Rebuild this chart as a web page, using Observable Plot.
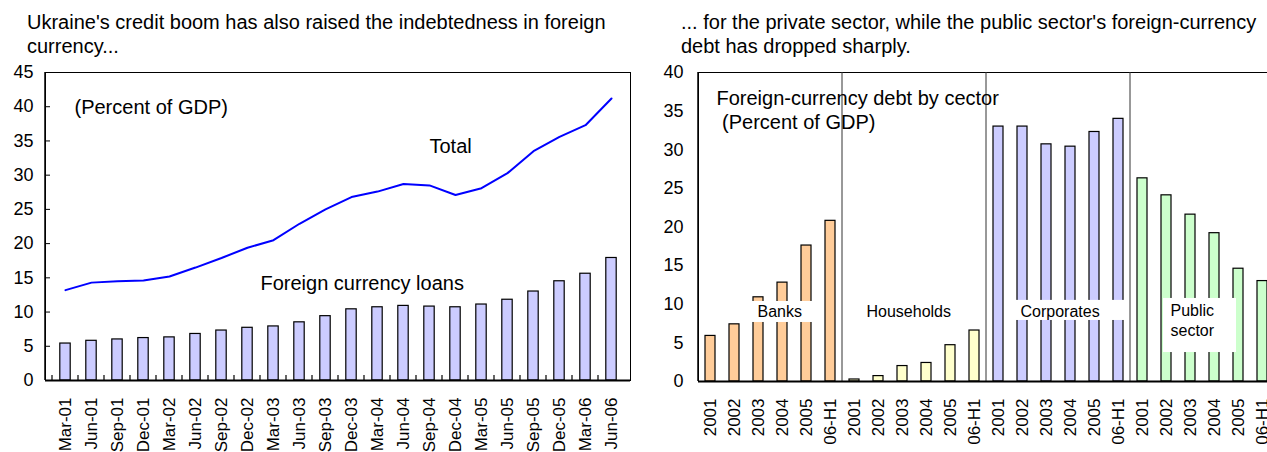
<!DOCTYPE html>
<html><head><meta charset="utf-8">
<script src="https://cdn.jsdelivr.net/npm/d3@7"></script>
<script src="https://cdn.jsdelivr.net/npm/@observablehq/plot@0.6"></script>
<style>
html,body{margin:0;padding:0;background:#fff;overflow:hidden;width:1267px;height:452px;}
body{position:relative;font-family:"Liberation Sans",Arial,sans-serif;}
.title{position:absolute;font-size:20px;line-height:24px;color:#000;white-space:nowrap;}
#left{position:absolute;left:0;top:60px;width:640px;}
#right{position:absolute;left:640px;top:60px;width:640px;}
</style></head><body>
<div class="title" style="left:27px;top:10px">Ukraine's credit boom has also raised the indebtedness in foreign<br>currency...</div>
<div class="title" style="left:681px;top:10px">... for the private sector, while the public sector's foreign-currency<br>debt has dropped sharply.</div>
<div id="left"></div>
<div id="right"></div>
<script>
// ---- Data: left panel ----
const quarters = ["Mar-01","Jun-01","Sep-01","Dec-01","Mar-02","Jun-02","Sep-02","Dec-02","Mar-03","Jun-03","Sep-03","Dec-03","Mar-04","Jun-04","Sep-04","Dec-04","Mar-05","Jun-05","Sep-05","Dec-05","Mar-06","Jun-06"];
const fxLoans = [5.4,5.8,6.0,6.2,6.3,6.8,7.3,7.7,7.9,8.5,9.4,10.4,10.7,10.9,10.8,10.7,11.1,11.8,13.0,14.5,15.6,17.9];
const totalDebt = [13.2,14.3,14.5,14.6,15.2,16.5,17.9,19.4,20.5,22.9,25.0,26.8,27.6,28.7,28.5,27.1,28.1,30.3,33.5,35.6,37.3,41.2];
const leftTicks = [0,5,10,15,20,25,30,35,40,45];

// ---- Data: right panel ----
const sectors = ["Banks","Households","Corporates","Public sector"];
const periods = ["2001","2002","2003","2004","2005","06-H1"];
const banks = [5.9,7.4,10.9,12.8,17.6,20.8];
const households = [0.26,0.7,2.0,2.4,4.7,6.6];
const corporates = [33.0,33.0,30.7,30.4,32.3,34.0];
const publicSector = [26.3,24.1,21.6,19.2,14.6,13.0];
const rightTicks = [0,5,10,15,20,25,30,35,40];
const sectorColors = ["#FFCC99","#FFFFCC","#CCCCFF","#CCFFCC"];

const FONT = '"Liberation Sans", Arial, sans-serif';

const leftData = quarters.map((q, i) => ({q, loans: fxLoans[i], total: totalDebt[i]}));
const sectorValues = [banks, households, corporates, publicSector];
const rightData = sectors.flatMap((s, si) => periods.map((p, pi) => ({key: s + "|" + p, sector: s, period: p, value: sectorValues[si][pi]})));
const rightKeys = rightData.map(d => d.key);

const svgStyle = {fontFamily: FONT, fontSize: "18px", color: "#000", background: "transparent", maxWidth: "none"};

// ---- Left chart ----
const left = Plot.plot({
  width: 640, height: 392,
  marginLeft: 45, marginRight: 10, marginTop: 12, marginBottom: 72,
  style: svgStyle,
  x: {type: "band", domain: quarters, padding: 0, label: null},
  y: {domain: [0, 45], label: null},
  marks: [
    Plot.frame({stroke: "#000", strokeWidth: 1}),
    Plot.barY(leftData, {x: "q", y: "loans", fill: "#CCCCFF", stroke: "#000", strokeWidth: 1.2, insetLeft: 7.8, insetRight: 7.8}),
    Plot.line(leftData, {x: "q", y: "total", stroke: "#0000FF", strokeWidth: 2}),
    Plot.axisY({ticks: leftTicks, tickSize: -5, tickPadding: 17, fontSize: 18, label: null}),
    Plot.axisX({tickSize: 0, tickRotate: -90, tickPadding: 17, fontSize: 17, label: null}),
    (index, scales, values, dims) => {
      const {x, y} = scales;
      const g = d3.create("svg:g").attr("stroke", "#000").attr("stroke-width", 1.2);
      quarters.forEach(q => {
        const bx = x(q);
        g.append("line").attr("x1", bx).attr("x2", bx).attr("y1", y(0)).attr("y2", y(0) - 5);
      });
      g.append("line").attr("x1", dims.marginLeft).attr("x2", dims.marginLeft)
        .attr("y1", dims.marginTop).attr("y2", y(0)).attr("stroke-width", 1.5);
      return g.node();
    },
    Plot.ruleY([0], {stroke: "#000", strokeWidth: 2}),
    Plot.text(["(Percent of GDP)"], {x: () => "Mar-01", y: () => 39.0, text: d => d, textAnchor: "start", lineAnchor: "bottom", dx: 9, fontSize: 20, fill: "#000"}),
    Plot.text(["Total"], {x: () => "Sep-04", y: () => 33.2, text: d => d, textAnchor: "start", lineAnchor: "bottom", dx: 0, fontSize: 20, fill: "#000"}),
    Plot.text(["Foreign currency loans"], {x: () => "Mar-03", y: () => 13.2, text: d => d, textAnchor: "start", lineAnchor: "bottom", dx: -13, fontSize: 20, fill: "#000"})
  ]
});
document.getElementById("left").append(left);

// ---- Right chart ----
// white label boxes, in band / value terms (dl, dr: offsets from band starts)
const boxes = [
  {from: "Banks|2003", to: "Banks|2005", dl: 4, dr: 18, top: 10.36, bottom: 7.64},
  {from: "Households|2001", to: "Households|2005", dl: 11, dr: 13, top: 10.36, bottom: 7.64},
  {from: "Corporates|2002", to: "Corporates|06-H1", dl: 5, dr: 22, top: 10.5, bottom: 7.9},
  {from: "Public sector|2002", to: "Public sector|2005", dl: 9, dr: 10, top: 10.75, bottom: 3.75}
];
const right = Plot.plot({
  width: 640, height: 392,
  marginLeft: 58, marginRight: 6, marginTop: 12, marginBottom: 71,
  style: svgStyle,
  x: {type: "band", domain: rightKeys, padding: 0, label: null},
  y: {domain: [0, 40], label: null},
  color: {domain: sectors, range: sectorColors},
  marks: [
    Plot.frame({stroke: "#000", strokeWidth: 1}),
    Plot.barY(rightData, {x: "key", y: "value", fill: "sector", stroke: "#000", strokeWidth: 1.2, insetLeft: 7, insetRight: 7}),
    (index, scales, values, dims) => {
      const {x, y} = scales;
      const g = d3.create("svg:g");
      sectors.slice(1).forEach(s => {
        const bx = x(s + "|" + periods[0]);
        g.append("line").attr("x1", bx).attr("x2", bx).attr("y1", y(40)).attr("y2", y(0))
          .attr("stroke", "#333").attr("stroke-width", 1);
      });
      boxes.forEach(b => {
        const x1 = x(b.from) + b.dl, x2 = x(b.to) + b.dr;
        g.append("rect").attr("x", x1).attr("y", y(b.top)).attr("width", x2 - x1)
          .attr("height", y(b.bottom) - y(b.top)).attr("fill", "#fff");
      });
      g.append("line").attr("x1", dims.marginLeft).attr("x2", dims.marginLeft)
        .attr("y1", dims.marginTop).attr("y2", y(0)).attr("stroke", "#000").attr("stroke-width", 1.5);
      return g.node();
    },
    Plot.axisY({ticks: rightTicks, tickSize: 0, tickPadding: 15, fontSize: 18, label: null}),
    Plot.axisX({tickSize: 0, tickRotate: -90, tickPadding: 17, fontSize: 17, label: null, tickFormat: d => d.split("|")[1]}),
    Plot.ruleY([0], {stroke: "#000", strokeWidth: 2}),
    Plot.text(["Foreign-currency debt by cector\n\u00a0(Percent of GDP)"], {x: () => "Banks|2001", y: () => 32.75, text: d => d, textAnchor: "start", lineAnchor: "bottom", lineHeight: 1.2, dx: 6, fontSize: 20, fill: "#000"}),
    Plot.text(["Banks"], {x: () => "Banks|2003", y: () => 8.3, text: d => d, textAnchor: "start", lineAnchor: "bottom", dx: -1, fontSize: 16, fill: "#000"}),
    Plot.text(["Households"], {x: () => "Households|2001", y: () => 8.35, text: d => d, textAnchor: "start", lineAnchor: "bottom", dx: 12, fontSize: 16, fill: "#000"}),
    Plot.text(["Corporates"], {x: () => "Corporates|2002", y: () => 8.4, text: d => d, textAnchor: "start", lineAnchor: "bottom", dx: -2, fontSize: 16, fill: "#000"}),
    Plot.text(["Public\nsector"], {x: () => "Public sector|2002", y: () => 5.95, text: d => d, textAnchor: "start", lineAnchor: "bottom", lineHeight: 1.2, dx: 4, fontSize: 16, fill: "#000"})
  ]
});
document.getElementById("right").append(right);
</script>
</body></html>
